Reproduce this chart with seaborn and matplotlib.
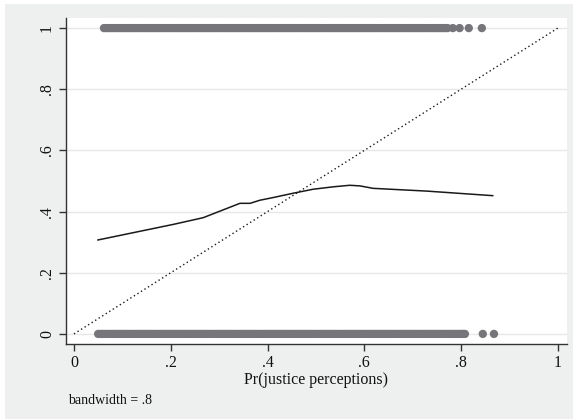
import matplotlib
matplotlib.use('Agg')
import matplotlib.pyplot as plt
from matplotlib.patches import Rectangle
import seaborn as sns
import pandas as pd

# observed outcomes (y = 1 row and y = 0 row), x = predicted probability
x_ones = [0.062, 0.067, 0.072, 0.077, 0.082, 0.087, 0.092, 0.097, 0.102, 0.107, 0.112,
          0.117, 0.122, 0.127, 0.132, 0.137, 0.142, 0.147, 0.152, 0.157, 0.162, 0.167,
          0.172, 0.177, 0.182, 0.187, 0.192, 0.197, 0.202, 0.207, 0.212, 0.217, 0.222,
          0.227, 0.232, 0.237, 0.242, 0.247, 0.252, 0.257, 0.262, 0.267, 0.272, 0.277,
          0.282, 0.287, 0.292, 0.297, 0.302, 0.307, 0.312, 0.317, 0.322, 0.327, 0.332,
          0.337, 0.342, 0.347, 0.352, 0.357, 0.362, 0.367, 0.372, 0.377, 0.382, 0.387,
          0.392, 0.397, 0.402, 0.407, 0.412, 0.417, 0.422, 0.427, 0.432, 0.437, 0.442,
          0.447, 0.452, 0.457, 0.462, 0.467, 0.472, 0.477, 0.482, 0.487, 0.492, 0.497,
          0.502, 0.507, 0.512, 0.517, 0.522, 0.527, 0.532, 0.537, 0.542, 0.547, 0.552,
          0.557, 0.562, 0.567, 0.572, 0.577, 0.582, 0.587, 0.592, 0.597, 0.602, 0.607,
          0.612, 0.617, 0.622, 0.627, 0.632, 0.637, 0.642, 0.647, 0.652, 0.657, 0.662,
          0.667, 0.672, 0.677, 0.682, 0.687, 0.692, 0.697, 0.702, 0.707, 0.712, 0.717,
          0.722, 0.727, 0.732, 0.737, 0.742, 0.747, 0.752, 0.757, 0.762, 0.767, 0.772,
          0.783, 0.797, 0.816, 0.843]
x_zeros = [0.050, 0.055, 0.060, 0.065, 0.070, 0.075, 0.080, 0.085, 0.090, 0.095, 0.100,
           0.105, 0.110, 0.115, 0.120, 0.125, 0.130, 0.135, 0.140, 0.145, 0.150, 0.155,
           0.160, 0.165, 0.170, 0.175, 0.180, 0.185, 0.190, 0.195, 0.200, 0.205, 0.210,
           0.215, 0.220, 0.225, 0.230, 0.235, 0.240, 0.245, 0.250, 0.255, 0.260, 0.265,
           0.270, 0.275, 0.280, 0.285, 0.290, 0.295, 0.300, 0.305, 0.310, 0.315, 0.320,
           0.325, 0.330, 0.335, 0.340, 0.345, 0.350, 0.355, 0.360, 0.365, 0.370, 0.375,
           0.380, 0.385, 0.390, 0.395, 0.400, 0.405, 0.410, 0.415, 0.420, 0.425, 0.430,
           0.435, 0.440, 0.445, 0.450, 0.455, 0.460, 0.465, 0.470, 0.475, 0.480, 0.485,
           0.490, 0.495, 0.500, 0.505, 0.510, 0.515, 0.520, 0.525, 0.530, 0.535, 0.540,
           0.545, 0.550, 0.555, 0.560, 0.565, 0.570, 0.575, 0.580, 0.585, 0.590, 0.595,
           0.600, 0.605, 0.610, 0.615, 0.620, 0.625, 0.630, 0.635, 0.640, 0.645, 0.650,
           0.655, 0.660, 0.665, 0.670, 0.675, 0.680, 0.685, 0.690, 0.695, 0.700, 0.705,
           0.710, 0.715, 0.720, 0.725, 0.730, 0.735, 0.740, 0.745, 0.750, 0.755, 0.760,
           0.765, 0.770, 0.775, 0.780, 0.785, 0.790, 0.795, 0.800, 0.804, 0.808,
           0.845, 0.868]

# lowess smooth
lw_x = [0.049, 0.205, 0.267, 0.343, 0.364, 0.384, 0.412, 0.453, 0.494, 0.536, 0.570,
        0.591, 0.618, 0.729, 0.866]
lw_y = [0.307, 0.358, 0.380, 0.427, 0.427, 0.437, 0.446, 0.460, 0.473, 0.481, 0.486,
        0.484, 0.476, 0.467, 0.452]

diag = [0, 1]
ticks = [0, 0.2, 0.4, 0.6, 0.8, 1]
tick_labels = ['0', '.2', '.4', '.6', '.8', '1']

sns.set_style('white')
plt.rcParams['font.family'] = ['Liberation Serif', 'DejaVu Serif']

W, H = 573, 419
fig = plt.figure(figsize=(W / 100, H / 100), dpi=100)
fig.patch.set_facecolor('white')
fig.patches.append(Rectangle((5 / W, 0), 1, 1 - 4 / H, transform=fig.transFigure,
                             facecolor='#eef0ef', edgecolor='none', zorder=-10))

ax = fig.add_axes([66 / W, 1 - 344 / H, (567 - 66) / W, (344 - 18) / H])
ax.set_facecolor('white')

pts = pd.DataFrame({'x': x_ones + x_zeros,
                    'y': [1] * len(x_ones) + [0] * len(x_zeros)})
sns.scatterplot(data=pts, x='x', y='y', ax=ax, color='#76767a', s=36,
                edgecolor='none', linewidth=0, zorder=3)
sns.lineplot(x=lw_x, y=lw_y, ax=ax, color='#1a1a1a', linewidth=1.1, zorder=4,
             estimator=None, sort=False)
sns.lineplot(x=diag, y=diag, ax=ax, color='#1a1a1a', linewidth=1.0, zorder=4,
             linestyle=(0, (1, 2)))

ax.set_xlim(-0.0165, 1.019)
ax.set_ylim(-0.033, 1.033)
ax.set_xticks(ticks)
ax.set_xticklabels(tick_labels)
ax.set_yticks(ticks)
ax.set_yticklabels(tick_labels, rotation=90, va='center')
for t in ticks:
    ax.axhline(t, color='#e6e8e8', linewidth=1.0, zorder=1)

for s in ['top', 'right']:
    ax.spines[s].set_visible(False)
for s in ['left', 'bottom']:
    ax.spines[s].set_color('#333333')
    ax.spines[s].set_linewidth(1.0)
ax.tick_params(axis='both', which='major', direction='out', length=5, width=1,
               color='#333333', labelsize=11.5, labelcolor='#111111', pad=3,
               left=True, bottom=True)

ax.set_xlabel('Pr(justice perceptions)', fontsize=11.5, color='#111111', labelpad=1)
ax.set_ylabel('')
fig.text(68 / W, 1 - 400 / H, 'bandwidth = .8', fontsize=10, color='#111111',
         va='center', ha='left')

fig.savefig('out.png', dpi=100, facecolor=fig.get_facecolor())
